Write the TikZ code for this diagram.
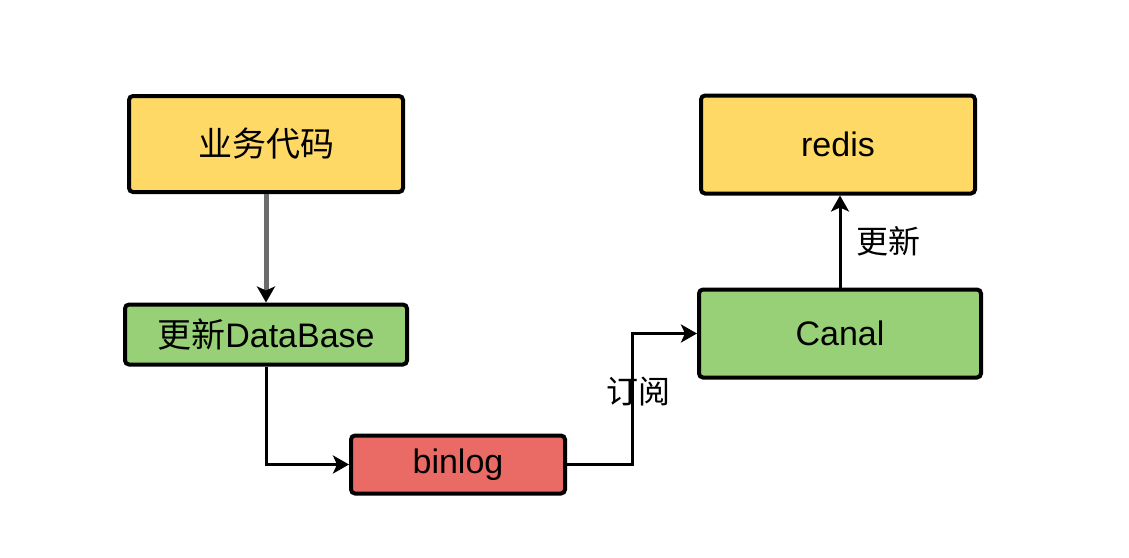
\documentclass[tikz,border=0pt]{standalone}
\usepackage{fontspec}
\setmainfont{Liberation Sans}
\newfontfamily\cjk{Noto Sans CJK SC}
\usepackage{xcolor}
\usetikzlibrary{arrows.meta}
\definecolor{boxyellow}{HTML}{FFD966}
\definecolor{boxgreen}{HTML}{97D077}
\definecolor{boxred}{HTML}{EA6B66}

\begin{document}
\begin{tikzpicture}[x=0.5pt, y=-0.5pt,
    box/.style={draw=black, line width=2pt, rounded corners=2pt, inner sep=0pt,
        font=\fontsize{17}{20}\selectfont},
    link/.style={line width=1.5pt, -{Stealth[length=8pt, width=9pt, inset=2pt, color=black]}},
    lbl/.style={font=\fontsize{16}{19}\selectfont\cjk}]
    \useasboundingbox (0,0) rectangle (1129,557);
    \node[box, fill=boxyellow, minimum width=137pt, minimum height=48pt] (biz) at (266,144) {\cjk 业务代码};
    \node[box, fill=boxgreen, minimum width=141pt, minimum height=30pt] (db) at (266,334.5) {{\cjk 更新}DataBase};
    \node[box, fill=boxred, minimum width=107pt, minimum height=29pt] (binlog) at (458,464.5) {binlog};
    \node[box, fill=boxgreen, minimum width=141pt, minimum height=44pt] (canal) at (840,333.5) {Canal};
    \node[box, fill=boxyellow, minimum width=137pt, minimum height=49pt] (redis) at (838,144.5) {redis};
    \draw[link, draw=gray!85!black, line width=2.5pt] (biz.south) -- (db.north);
    \draw[link] (db.south) |- (binlog.west);
    \draw[link] (binlog.east) -- ++(65,0) |- (canal.west) node[lbl, pos=0.28, xshift=3pt] {订阅};
    \draw[link] (canal.north) -- (canal.north |- redis.south) node[lbl, midway, right=4pt] {更新};
\end{tikzpicture}
\end{document}
